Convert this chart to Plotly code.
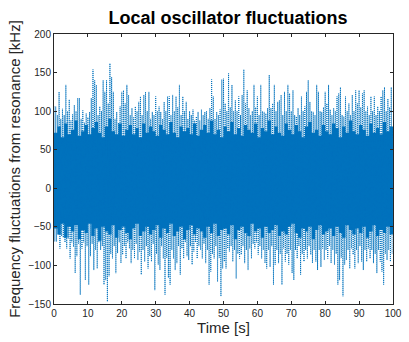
import numpy as np
import plotly.graph_objects as go

# Upper envelope of the trace, every 0.5 s (kHz)
upper = [106, 106, 95, 125, 90, 103, 95, 134, 100, 115,
         88, 96, 108, 100, 117, 117, 90, 101, 85, 97,
         92, 99, 117, 154, 140, 134, 95, 106, 100, 140,
         125, 140, 110, 162, 144, 125, 90, 99, 85, 106,
         125, 127, 110, 134, 121, 95, 104, 92, 106, 100,
         112, 119, 95, 121, 125, 100, 125, 90, 99, 95,
         119, 100, 106, 99, 90, 112, 100, 119, 119, 95,
         121, 100, 119, 105, 134, 95, 119, 100, 112, 90,
         100, 95, 102, 88, 93, 99, 88, 102, 95, 99,
         100, 90, 104, 141, 119, 90, 99, 95, 102, 141,
         142, 110, 100, 149, 105, 134, 100, 114, 100, 119,
         95, 121, 154, 110, 127, 104, 95, 100, 134, 105,
         119, 95, 134, 100, 99, 97, 104, 147, 104, 110,
         134, 100, 112, 114, 121, 95, 125, 100, 134, 123,
         100, 127, 95, 93, 104, 95, 119, 100, 106, 125,
         140, 112, 100, 99, 95, 134, 125, 100, 99, 105,
         125, 110, 134, 102, 95, 104, 100, 119, 123, 131,
         95, 93, 119, 100, 110, 95, 121, 100, 127, 110,
         127, 105, 123, 127, 100, 106, 95, 119, 100, 119,
         95, 106, 100, 119, 127, 131, 100, 116, 105, 131]

# Lower envelope of the trace, every 0.5 s (kHz)
lower = [-69, -69, -60, -78, -62, -64, -70, -78, -65, -91,
         -70, -76, -110, -88, -72, -138, -78, -70, -119, -75,
         -125, -88, -72, -106, -80, -104, -70, -80, -75, -125,
         -119, -147, -114, -85, -91, -75, -110, -84, -70, -97,
         -86, -75, -91, -70, -78, -97, -80, -91, -72, -93,
         -82, -112, -80, -95, -75, -104, -88, -95, -72, -132,
         -85, -99, -106, -75, -91, -138, -90, -116, -125, -80,
         -91, -106, -97, -75, -112, -78, -91, -70, -88, -93,
         -75, -99, -82, -70, -91, -75, -80, -91, -72, -97,
         -80, -125, -108, -85, -91, -75, -121, -90, -140, -104,
         -95, -104, -78, -82, -75, -95, -80, -117, -85, -91,
         -86, -75, -97, -80, -106, -78, -91, -72, -78, -70,
         -86, -75, -91, -80, -97, -104, -80, -102, -75, -125,
         -99, -80, -97, -85, -125, -78, -95, -85, -99, -80,
         -110, -119, -80, -91, -75, -112, -85, -95, -80, -91,
         -75, -86, -97, -80, -95, -106, -80, -102, -78, -93,
         -80, -91, -75, -97, -80, -99, -85, -125, -119, -90,
         -140, -99, -93, -80, -104, -78, -86, -104, -80, -97,
         -75, -95, -106, -80, -95, -78, -91, -80, -97, -85,
         -110, -80, -95, -108, -125, -85, -93, -80, -95, -85]

# Dense (solid) core of the trace, every 1 s (kHz)
core_hi = [72, 80, 66, 84, 70, 76, 88, 68, 74, 82,
           70, 78, 86, 72, 66, 80, 90, 74, 70, 84,
           68, 76, 82, 70, 78, 66, 84, 72, 80, 74,
           68, 82, 76, 70, 86, 72, 66, 80, 74, 78,
           70, 84, 68, 76, 82, 72, 88, 70, 76, 66,
           80, 74, 86, 70, 78, 68, 82, 76, 72, 84,
           66, 78, 74, 88, 70, 80, 72, 68, 84, 76,
           70, 82, 74, 66, 80, 86, 72, 76, 68, 82,
           74, 70, 84, 78, 66, 80, 72, 88, 74, 70,
           82, 76, 68, 84, 72, 78, 70, 86, 74, 80, 72]
core_lo = [-52, -60, -46, -64, -50, -56, -48, -66, -54, -58,
           -46, -62, -52, -68, -50, -56, -60, -48, -64, -54,
           -50, -58, -66, -52, -46, -62, -56, -50, -60, -54,
           -48, -64, -52, -58, -46, -62, -56, -50, -66, -54,
           -48, -60, -52, -56, -64, -50, -58, -46, -62, -54,
           -52, -60, -48, -66, -54, -50, -58, -62, -46, -56,
           -52, -64, -50, -58, -54, -48, -62, -56, -60, -50,
           -46, -58, -64, -52, -56, -50, -66, -54, -48, -60,
           -56, -52, -62, -50, -58, -64, -48, -54, -60, -52,
           -58, -50, -64, -56, -48, -62, -54, -58, -50, -60, -54]

t_env = np.arange(len(upper)) * 0.5
t_trace = np.empty(2 * len(upper))
t_trace[0::2] = t_env
t_trace[1::2] = t_env + 0.25
y_trace = np.empty(2 * len(upper))
y_trace[0::2] = upper
y_trace[1::2] = lower
t_core = np.arange(len(core_hi)) * 1.0

blue = "#0072BD"
fig = go.Figure()
fig.add_trace(go.Scatter(x=t_core, y=core_hi, mode="lines",
                         line=dict(width=0, color=blue, shape="hv"),
                         hoverinfo="skip"))
fig.add_trace(go.Scatter(x=t_core, y=core_lo, mode="lines", fill="tonexty",
                         fillcolor=blue,
                         line=dict(width=0, color=blue, shape="hv"),
                         hoverinfo="skip"))
fig.add_trace(go.Scatter(x=t_trace, y=y_trace, mode="lines",
                         line=dict(width=1, color=blue, dash="1px,1px")))

font_family = "Liberation Sans, Arial"
axis_common = dict(showgrid=False, zeroline=False, showline=True,
                   linecolor="#262626", linewidth=1, mirror="ticks",
                   ticks="inside", ticklen=3, tickcolor="#262626",
                   ticklabeloverflow="allow",
                   tickfont=dict(family=font_family, size=10,
                                 color="#262626"))
fig.update_layout(
    width=409, height=342,
    margin=dict(l=54, r=7, t=34, b=38),
    paper_bgcolor="white", plot_bgcolor="white",
    showlegend=False,
    title=dict(text="<b>Local oscillator fluctuations</b>",
               x=(54 + 402) / 2 / 409, xanchor="center",
               y=1 - 18 / 342, yanchor="middle",
               font=dict(family=font_family, size=18, color="black")),
    xaxis=dict(range=[0, 100.01], tickvals=list(range(0, 101, 10)),
               title=dict(text="Time [s]", standoff=3,
                          font=dict(family=font_family, size=15,
                                    color="#262626")),
               **axis_common),
    yaxis=dict(range=[-150, 200], tickvals=list(range(-150, 201, 50)),
               title=dict(text="Frequency fluctuations from resonance [kHz]",
                          standoff=4,
                          font=dict(family=font_family, size=15,
                                    color="#262626")),
               **axis_common),
)
fig.write_html("out.html")
